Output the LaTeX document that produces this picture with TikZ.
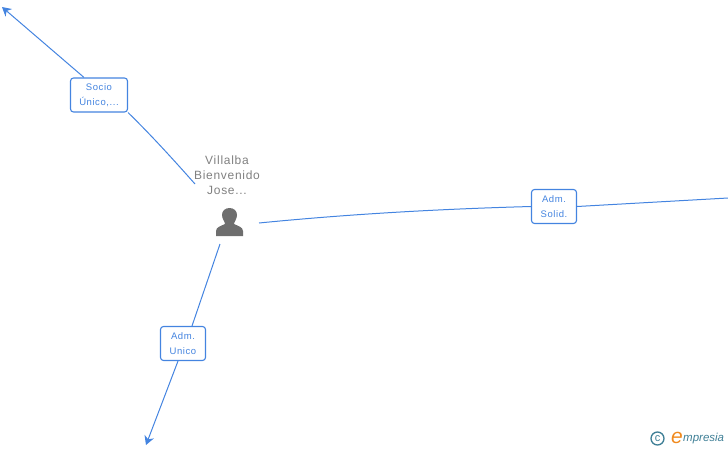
\documentclass[tikz,border=0pt]{standalone}
\usepackage{fontspec}
\setmainfont{Liberation Sans}
\newfontfamily\spacedfont[LetterSpace=6]{Liberation Sans}
\usetikzlibrary{arrows.meta}
\definecolor{linkblue}{HTML}{4484E0}
\definecolor{namegray}{HTML}{808080}
\definecolor{icongray}{HTML}{6E6E6E}
\definecolor{logoteal}{HTML}{3F7F96}
\definecolor{logoorange}{HTML}{F08A1E}

\begin{document}
\begin{tikzpicture}[x=1pt, y=-1pt, every node/.style={font=\spacedfont},
    link/.style={linkblue, line width=1pt},
    tip/.style={-{Stealth[length=9pt, width=10pt]}},
    rolebox/.style={draw=linkblue, fill=white, rounded corners=3pt, line width=1.1pt,
      text=linkblue, font=\spacedfont\fontsize{9.5}{15}\selectfont, align=center, inner sep=0pt}]
  \useasboundingbox (0,0) rectangle (728,450);

  % Person
  \node[text=namegray, align=center, font=\spacedfont\fontsize{12}{15}\selectfont] (name) at (227,175) {Villalba\\Bienvenido\\Jose...};
  \fill[icongray] (216,236) -- (216,231) .. controls (216,227) and (221,226) .. (225,224)
    .. controls (225,222) and (222,219) .. (222,215) .. controls (222,211) and (225,208) .. (229.5,208)
    .. controls (234,208) and (237,211) .. (237,215) .. controls (237,219) and (234,222) .. (234,224)
    .. controls (238,226) and (243,227) .. (243,231) -- (243,236) -- cycle;
  \coordinate (personNW) at (195,184);
  \coordinate (personE) at (259,223);
  \coordinate (personS) at (220,244);

  % Role boxes
  \node[rolebox, minimum width=57pt, minimum height=34pt] (socio) at (99,95) {Socio\\Único,...};
  \node[rolebox, minimum width=45pt, minimum height=34pt] (solid) at (554,206.5) {Adm.\\Solid.};
  \node[rolebox, minimum width=45pt, minimum height=34pt] (unico) at (183,343.5) {Adm.\\Unico};

  % Far ends
  \coordinate (farNW) at (2,7);
  \coordinate (farE) at (728,198);
  \coordinate (farS) at (146,445);

  % Links
  \draw[link] (personNW) .. controls (172,158) and (150,134) .. (socio.south east);
  \draw[link, tip] (socio.north -| 84,0) -- (farNW);
  \draw[link] (personE) .. controls (350,214) and (440,209) .. (solid.west);
  \draw[link] (solid.east) -- (farE);
  \draw[link] (personS) -- (unico.north -| 192,0);
  \draw[link, tip] (unico.south -| 178,0) -- (farS);

  % Logo
  \node[circle, draw=logoteal, line width=1.3pt, text=logoteal, inner sep=0pt, minimum size=13pt,
    font=\fontsize{11}{11}\selectfont] (copy) at (657.5,438.5) {c};
  \node[text=logoorange, inner sep=0pt, font=\itshape\fontsize{21}{21}\selectfont] (logoe) at (677,437.5) {e};
  \node[text=logoteal, inner sep=0pt, anchor=west, font=\itshape\fontsize{11.5}{12}\selectfont] (logotext) at (683,438.5) {mpresia};
\end{tikzpicture}
\end{document}
